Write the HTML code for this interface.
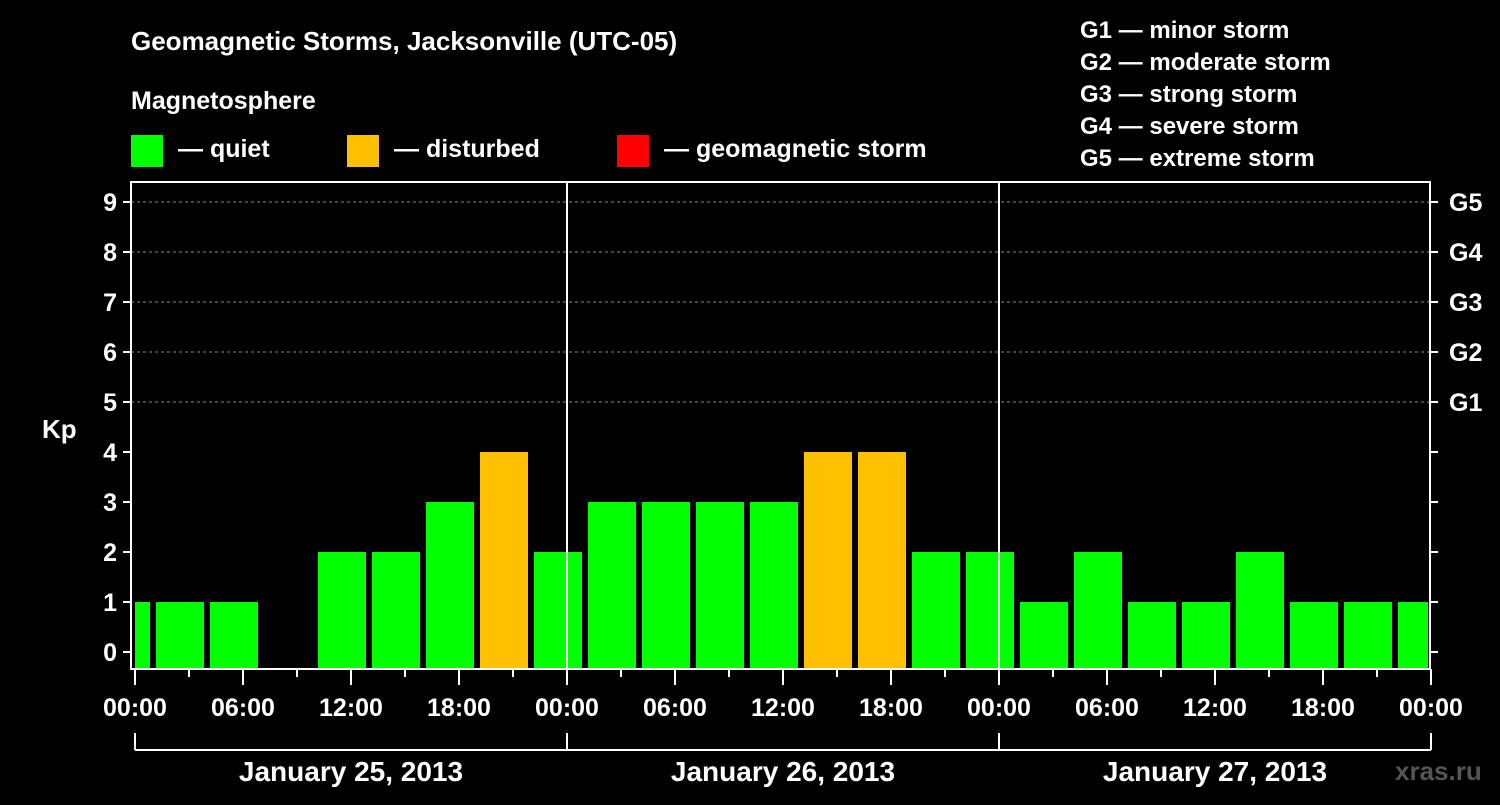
<!DOCTYPE html>
<html><head><meta charset="utf-8"><style>
body{margin:0;background:#000;width:1500px;height:800px;overflow:hidden}
svg text{font-family:"Liberation Sans",Arial,sans-serif;font-weight:bold;fill:#fff}
</style></head><body>
<svg id="chart" width="1500" height="800" xmlns="http://www.w3.org/2000/svg">
<rect width="1500" height="800" fill="#000"/>
<text x="131" y="50" font-size="26">Geomagnetic Storms, Jacksonville (UTC-05)</text>
<text x="131" y="109" font-size="25">Magnetosphere</text>
<rect x="131" y="135" width="32" height="32" fill="#00ff00"/>
<text x="178" y="157" font-size="25">— quiet</text>
<rect x="347" y="135" width="32" height="32" fill="#ffc000"/>
<text x="394" y="157" font-size="25">— disturbed</text>
<rect x="617" y="135" width="32" height="32" fill="#ff0000"/>
<text x="664" y="157" font-size="25">— geomagnetic storm</text>
<g font-size="24">
<text x="1080" y="38">G1 — minor storm</text>
<text x="1080" y="70">G2 — moderate storm</text>
<text x="1080" y="102">G3 — strong storm</text>
<text x="1080" y="134">G4 — severe storm</text>
<text x="1080" y="166">G5 — extreme storm</text>
</g>
<text x="42" y="438" font-size="26">Kp</text>
<text x="1395" y="780" font-size="26" style="fill:#555">xras.ru</text>
<g id="grid"></g><g id="bars"></g><g id="axes"></g>
</svg>
<script>
const kpValues=[1,1,1,null,2,2,3,4,2,3,3,3,3,4,4,2,2,1,2,1,1,2,1,1,1];
const yTicks=[0,1,2,3,4,5,6,7,8,9];
const gLabels=["G1","G2","G3","G4","G5"];
const xLabels=["00:00","06:00","12:00","18:00","00:00","06:00","12:00","18:00","00:00","06:00","12:00","18:00","00:00"];
const dayLabels=["January 25, 2013","January 26, 2013","January 27, 2013"];
const NS="http://www.w3.org/2000/svg";
const L=131,R=1430,T=182,B=669,X0=135;
const xh=h=>X0+18*h;            // hours from Jan 25 00:00 local
const y=v=>652-50*v;
function mk(tag,attrs,parent,txt){const e=document.createElementNS(NS,tag);for(const k in attrs)e.setAttribute(k,attrs[k]);if(txt!==undefined)e.textContent=txt;document.getElementById(parent).appendChild(e);return e;}
// grid
for(let v=5;v<=9;v++){const e=mk('line',{x1:L,x2:R,y1:y(v),y2:y(v),stroke:'#888','stroke-dasharray':'3,3','stroke-width':1},'grid');

}
// bars: first block starts at local -2h (UTC-5 offset), 3h each
kpValues.forEach((v,i)=>{if(v===null)return;
 let x1=xh(-2+3*i)+3,x2=x1+48;x1=Math.max(x1,L+4);x2=Math.min(x2,R-2);
 const col=v>=5?'#ff0000':(v>=4?'#ffc000':'#00ff00');
 const r=mk('rect',{x:x1,y:y(v),width:x2-x1,height:B-y(v),fill:col},'bars');
 
 });
// axes
const fr=mk('rect',{x:L,y:T,width:R-L,height:B-T,fill:'none',stroke:'#fff','stroke-width':2},'axes');


[1,2].forEach(d=>{const e=mk('line',{x1:xh(24*d),x2:xh(24*d),y1:T,y2:B,stroke:'#fff','stroke-width':2},'axes');

});
yTicks.forEach(v=>{mk('line',{x1:L-8,x2:L,y1:y(v),y2:y(v),stroke:'#fff','stroke-width':2},'axes');
 mk('line',{x1:R,x2:R+8,y1:y(v),y2:y(v),stroke:'#fff','stroke-width':2},'axes');
 const t=mk('text',{x:L-14,y:y(v)+9,'text-anchor':'end','font-size':25},'axes',String(v));
 
 });
gLabels.forEach((g,i)=>{const t=mk('text',{x:1449,y:y(5+i)+9,'font-size':25},'axes',g);
 
 });
for(let h=0;h<=72;h+=3){const maj=h%6===0;mk('line',{x1:xh(h),x2:xh(h),y1:B,y2:B+(maj?16:8),stroke:'#fff','stroke-width':2},'axes');}
xLabels.forEach((s,i)=>{const t=mk('text',{x:xh(6*i),y:716,'text-anchor':'middle','font-size':25},'axes',s);
 
 });
mk('line',{x1:xh(0),x2:xh(72),y1:750,y2:750,stroke:'#fff','stroke-width':2},'axes');
for(let d=0;d<=3;d++)mk('line',{x1:xh(24*d),x2:xh(24*d),y1:733,y2:750,stroke:'#fff','stroke-width':2},'axes');
dayLabels.forEach((s,i)=>{const t=mk('text',{x:xh(24*i+12),y:781,'text-anchor':'middle','font-size':28},'axes',s);
 
 });
</script>
</body></html>
